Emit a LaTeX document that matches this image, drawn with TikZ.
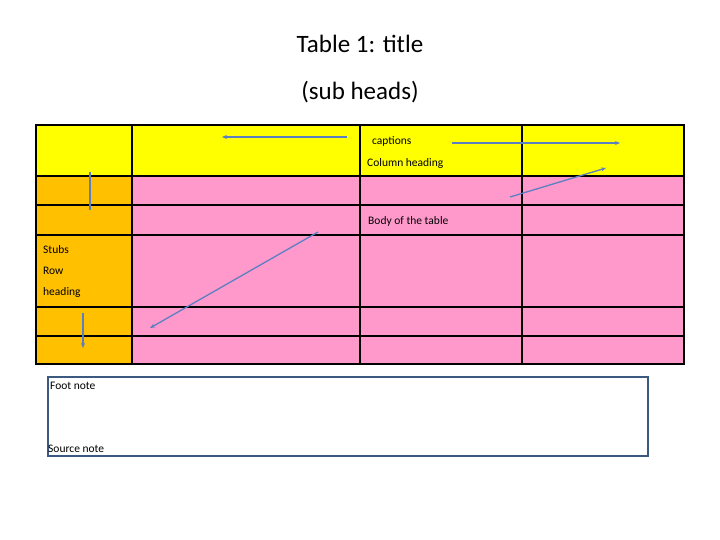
\documentclass[tikz,border=0pt]{standalone}
\usepackage{fontspec}
\setmainfont{Carlito}
\usetikzlibrary{arrows.meta}
\definecolor{yel}{HTML}{FFFF00}
\definecolor{pnk}{HTML}{FF99CC}
\definecolor{org}{HTML}{FFC000}
\definecolor{arr}{HTML}{5B7FC0}
\definecolor{bx}{HTML}{3C5A80}
\tikzset{cell/.style={draw=black,line width=1.5pt},
 pt/.style={draw=arr,line width=1.3pt,-{Stealth[length=5pt,width=4pt]}},
 txt/.style={anchor=west,inner sep=0pt,font=\fontsize{11.5}{14}\selectfont}}
\begin{document}
\begin{tikzpicture}[x=1pt,y=-1pt]
\useasboundingbox (0,0) rectangle (720,540);
\node[font=\fontsize{25}{30}\selectfont] (t1) at (360,44) {Table 1: title};
\node[font=\fontsize{25}{30}\selectfont] (t2) at (360,92) {(sub heads)};
% fills
\fill[yel] (36,125) rectangle (684,176);
\fill[org] (36,176) rectangle (132,364);
\fill[pnk] (132,176) rectangle (684,364);
% grid
\draw[cell] (36,125) rectangle (684,364);
\foreach \y in {176,205,235,307,336} \draw[cell] (36,\y) -- (684,\y);
\foreach \x in {132,360,522} \draw[cell] (\x,125) -- (\x,364);
% texts
\node[txt] (cap) at (372,141) {captions};
\node[txt] (colh) at (367,163) {Column heading};
\node[txt] (body) at (368,221) {Body of the table};
\node[txt,align=left,font=\fontsize{11.5}{21}\selectfont] (stub) at (43,271) {Stubs\\Row\\heading};
% arrows
\coordinate (a1s) at (347,137); \coordinate (a1e) at (222,137);
\coordinate (a2s) at (452,143); \coordinate (a2e) at (620,143);
\coordinate (a3s) at (510,197); \coordinate (a3e) at (606,168);
\coordinate (a4s) at (90,210); \coordinate (a4e) at (90,172);
\coordinate (a5s) at (318,232); \coordinate (a5e) at (150,328);
\coordinate (a6s) at (83,313); \coordinate (a6e) at (83,348);
\draw[pt] (a1s) -- (a1e);
\draw[pt] (a2s) -- (a2e);
\draw[pt] (a3s) -- (a3e);
\draw[draw=arr,line width=1.3pt] (a4s) -- (a4e);
\draw[pt] (a5s) -- (a5e);
\draw[pt] (a6s) -- (a6e);
% foot box
\draw[draw=bx,line width=2pt] (48,377) rectangle (648,456);
\node[txt] (fn) at (50,386) {Foot note};
\node[txt] (sn) at (48,449) {Source note};
\end{tikzpicture}
\end{document}
